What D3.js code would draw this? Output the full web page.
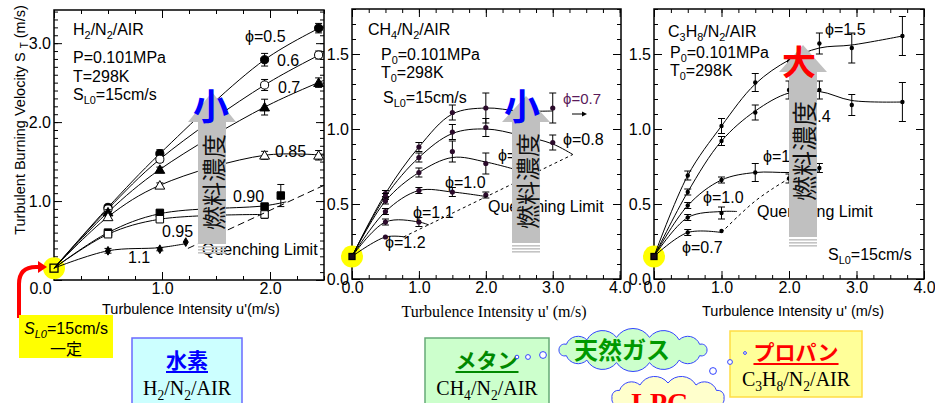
<!DOCTYPE html>
<html>
<head>
<meta charset="utf-8">
<script src="https://cdn.jsdelivr.net/npm/d3@7"></script>
<style>
  body { margin: 0; background: #fff; }
</style>
</head>
<body>
<script>
// ---- data (u' in m/s, S_T in m/s) ----
var sL0 = 0.15;

// H2/N2/AIR panel
var h2Series = [
  { phi: "0.5",  mark: "circle",   open: false, u: [0.5, 0.98, 1.95, 2.45], st: [0.92, 1.6, 2.79, 3.19], err: [0.03, 0.05, 0.08, 0.06],
    fit: [[0, 0.15], [0.5, 0.92], [0.98, 1.6], [1.95, 2.79], [2.5, 3.22]] },
  { phi: "0.6",  mark: "circle",   open: true,  u: [0.5, 0.98, 1.95, 2.45], st: [0.9, 1.53, 2.47, 2.85], err: [0.03, 0.04, 0.07, 0.05],
    fit: [[0, 0.15], [0.5, 0.9], [0.98, 1.53], [1.95, 2.47], [2.5, 2.88]] },
  { phi: "0.7",  mark: "triangle", open: false, u: [0.5, 0.98, 1.95, 2.45], st: [0.86, 1.4, 2.19, 2.5], err: [0.03, 0.03, 0.1, 0.06],
    fit: [[0, 0.15], [0.5, 0.86], [0.98, 1.4], [1.95, 2.19], [2.5, 2.53]] },
  { phi: "0.85", mark: "triangle", open: true,  u: [0.5, 0.98, 1.95, 2.45], st: [0.8, 1.2, 1.58, 1.58], err: [0.03, 0.03, 0.05, 0.06],
    fit: [[0, 0.15], [0.5, 0.8], [0.98, 1.2], [1.95, 1.58], [2.5, 1.58]] },
  { phi: "0.90", mark: "square",   open: false, u: [0.5, 0.98, 1.95, 2.1], st: [0.6, 0.85, 0.93, 1.07], err: [0.02, 0.03, 0.04, 0.14],
    fit: [[0, 0.15], [0.5, 0.6], [0.98, 0.84], [1.95, 0.94], [2.15, 0.99]] },
  { phi: "0.95", mark: "square",   open: true,  u: [0.5, 0.98, 1.95], st: [0.58, 0.77, 0.83], err: [0.02, 0.03, 0.05],
    fit: [[0, 0.15], [0.5, 0.58], [0.98, 0.77], [1.95, 0.83]] },
  { phi: "1.1",  mark: "diamond",  open: false, u: [0.5, 0.98, 1.22], st: [0.37, 0.39, 0.48], err: [0.03, 0.02, 0],
    fit: [[0, 0.15], [0.5, 0.37], [0.98, 0.41], [1.22, 0.46]] }
];
var h2Quench = [[1.24, 0.40], [2.5, 1.2]];

// CH4/N2/AIR panel
var ch4Series = [
  { phi: "0.7", u: [0.5, 1.0, 1.5, 2.0, 3.0], st: [0.57, 0.88, 1.11, 1.14, 1.14], err: [0.02, 0.03, 0.05, 0.1, 0.1],
    fit: [[0, 0.15], [0.5, 0.57], [1.0, 0.88], [1.5, 1.1], [2.0, 1.14], [2.5, 1.12], [3.0, 1.12]] },
  { phi: "0.8", u: [0.5, 1.0, 1.5, 2.0, 3.0], st: [0.55, 0.81, 0.98, 1.01, 0.91], err: [0.02, 0.03, 0.05, 0.06, 0.05],
    fit: [[0, 0.15], [0.5, 0.55], [1.0, 0.81], [1.5, 0.97], [2.0, 1.0], [2.5, 0.96], [3.0, 0.9], [3.3, 0.83]] },
  { phi: "0.9", u: [0.5, 1.0, 1.5, 2.0], st: [0.52, 0.71, 0.85, 0.77], err: [0.02, 0.03, 0.07, 0.07],
    fit: [[0, 0.15], [0.5, 0.52], [1.0, 0.71], [1.5, 0.81], [2.0, 0.78], [2.6, 0.71]] },
  { phi: "1.0", u: [0.5, 1.0, 1.5, 2.0], st: [0.45, 0.59, 0.58, 0.56], err: [0.02, 0.02, 0.03, 0.02],
    fit: [[0, 0.15], [0.5, 0.45], [1.0, 0.59], [1.5, 0.58], [2.0, 0.55]] },
  { phi: "1.1", u: [0.5, 1.0], st: [0.38, 0.38], err: [0.02, 0.03],
    fit: [[0, 0.15], [0.5, 0.38], [1.0, 0.38], [1.15, 0.36]] },
  { phi: "1.2", u: [0.5], st: [0.28], err: [0],
    fit: [[0, 0.15], [0.5, 0.28], [0.8, 0.28]] }
];
var ch4Quench = [[0.77, 0.28], [3.3, 0.83]];

// C3H8/N2/AIR panel
var c3h8Series = [
  { phi: "1.5", u: [0.5, 1.0, 1.5, 2.0, 2.45, 2.93, 3.68], st: [0.69, 1.02, 1.31, 1.45, 1.57, 1.54, 1.62], err: [0.03, 0.05, 0.06, 0.03, 0.07, 0.1, 0.13],
    fit: [[0, 0.15], [0.5, 0.69], [1.0, 1.02], [1.5, 1.3], [2.0, 1.46], [2.45, 1.54], [2.93, 1.56], [3.68, 1.62]] },
  { phi: "1.4", u: [0.5, 1.0, 1.5, 2.0, 2.45, 2.93, 3.68], st: [0.58, 0.92, 1.11, 1.26, 1.26, 1.16, 1.18], err: [0.02, 0.03, 0.05, 0.06, 0.06, 0.07, 0.13],
    fit: [[0, 0.15], [0.5, 0.58], [1.0, 0.92], [1.5, 1.12], [2.0, 1.24], [2.45, 1.25], [2.93, 1.19], [3.68, 1.18]] },
  { phi: "1.2", u: [0.5, 1.0, 1.5, 2.0, 2.45], st: [0.49, 0.66, 0.71, 0.67, 0.74], err: [0.02, 0.02, 0.06, 0.03, 0.03],
    fit: [[0, 0.15], [0.5, 0.49], [1.0, 0.66], [1.5, 0.71], [2.0, 0.71], [2.45, 0.72]] },
  { phi: "1.0", u: [0.5, 1.0], st: [0.41, 0.44], err: [0.02, 0.04],
    fit: [[0, 0.15], [0.5, 0.41], [1.0, 0.45], [1.23, 0.45]] },
  { phi: "0.7", u: [0.5, 1.0], st: [0.31, 0.32], err: [0.02, 0],
    fit: [[0, 0.15], [0.5, 0.31], [1.0, 0.31]] }
];
var c3h8Quench = [[1.0, 0.31], [1.25, 0.42], [1.5, 0.52], [1.75, 0.6], [2.0, 0.67]];

var sans = "'Liberation Sans', Arial, sans-serif";
var serif = "'Liberation Serif', 'Times New Roman', serif";
var cjk = "'Noto Sans CJK JP', sans-serif";

var svg = d3.select("body").append("svg")
  .attr("width", 935)
  .attr("height", 403)
  .style("display", "block");

// scales for the three panels
var xH2 = d3.scaleLinear().domain([0, 2.5]).range([54, 324]);
var yH2 = d3.scaleLinear().domain([0, 3.42]).range([280, 10]);
var xCH4 = d3.scaleLinear().domain([0, 4.02]).range([352, 621]);
var yCH4 = d3.scaleLinear().domain([0, 1.8]).range([279, 9]);
var xC3H8 = d3.scaleLinear().domain([0, 4]).range([654, 924]);
var yC3H8 = d3.scaleLinear().domain([0, 1.8]).range([279, 9]);

function steps(max, step) {
  return d3.range(0, Math.round(max / step) + 1).map(function (i) { return +(i * step).toFixed(2); });
}

// frame with inward ticks on all four sides
function frame(g, x, y, xMaj, xMin, yMaj, yMin, xLab, yLab) {
  var W = x.range(), H = y.range();
  var sides = [
    [d3.axisBottom(x), "translate(0," + H[0] + ")", xMaj, xMin, xLab],
    [d3.axisTop(x), "translate(0," + H[1] + ")", xMaj, xMin, []],
    [d3.axisLeft(y), "translate(" + W[0] + ",0)", yMaj, yMin, yLab],
    [d3.axisRight(y), "translate(" + W[1] + ",0)", yMaj, yMin, []]
  ];
  sides.forEach(function (s) {
    g.append("g").attr("transform", s[1])
      .call(s[0].tickValues(s[3]).tickSize(-4).tickFormat(""));
    g.append("g").attr("transform", s[1])
      .call(s[0].tickValues(s[2]).tickSize(-8).tickFormat(function (d) {
        return s[4].indexOf(d) >= 0 ? d3.format(".1f")(d) : "";
      }));
  });
  g.selectAll(".domain").remove();
  g.selectAll(".tick line").attr("stroke", "#000").attr("stroke-width", 1);
  g.selectAll(".tick text").attr("font-family", sans).attr("font-size", 16).attr("fill", "#000");
  g.append("rect")
    .attr("x", W[0]).attr("y", H[1])
    .attr("width", W[1] - W[0]).attr("height", H[0] - H[1])
    .attr("fill", "none").attr("stroke", "#000").attr("stroke-width", 1.5);
}

// text with subscripts: parts are strings, or [string] for a subscript
function rich(g, x, y, parts, size, family, color) {
  var t = g.append("text").attr("x", x).attr("y", y)
    .attr("font-size", size).attr("font-family", family).attr("fill", color || "#000");
  var down = false;
  parts.forEach(function (p) {
    var sub = Array.isArray(p);
    var s = t.append("tspan").text(sub ? p[0] : p);
    if (sub) {
      s.attr("font-size", size * 0.68);
      if (!down) s.attr("dy", size * 0.25);
      down = true;
    } else if (down) {
      s.attr("dy", -size * 0.25);
      down = false;
    }
  });
  return t;
}

var line = function (x, y) {
  return d3.line()
    .x(function (d) { return x(d[0]); })
    .y(function (d) { return y(d[1]); })
    .curve(d3.curveCatmullRom.alpha(0.5));
};

var symbols = { circle: d3.symbolCircle, triangle: d3.symbolTriangle, square: d3.symbolSquare, diamond: d3.symbolDiamond };
var symSize = { circle: 52, triangle: 42, square: 56, diamond: 22 };

function drawSeries(g, x, y, list, dotColor, dotR) {
  var ln = line(x, y);
  list.forEach(function (s) {
    g.append("path").attr("d", ln(s.fit))
      .attr("fill", "none").attr("stroke", "#000").attr("stroke-width", 1);
  });
  list.forEach(function (s) {
    s.u.forEach(function (u, i) {
      var cx = x(u), cy = y(s.st[i]), e = s.err[i];
      if (e > 0) {
        var y1 = y(s.st[i] - e), y2 = y(s.st[i] + e);
        g.append("line").attr("x1", cx).attr("x2", cx).attr("y1", y1).attr("y2", y2).attr("stroke", "#000");
        [y1, y2].forEach(function (yy) {
          g.append("line").attr("x1", cx - 3.5).attr("x2", cx + 3.5).attr("y1", yy).attr("y2", yy).attr("stroke", "#000");
        });
      }
      if (s.mark) {
        g.append("path")
          .attr("d", d3.symbol().type(symbols[s.mark]).size(symSize[s.mark])())
          .attr("transform", "translate(" + cx + "," + (cy + (s.mark === "triangle" ? 1 : 0)) + ")")
          .attr("fill", s.open ? "#fff" : "#000")
          .attr("stroke", "#000").attr("stroke-width", 1);
      } else {
        g.append("circle").attr("cx", cx).attr("cy", cy).attr("r", dotR).attr("fill", dotColor);
      }
    });
  });
}

function origin(g, x, y, big) {
  g.append("circle").attr("cx", x(0)).attr("cy", y(sL0)).attr("r", 11).attr("fill", "#ffff00");
}
function originMark(g, x, y, big) {
  var s = big ? 8 : 6;
  g.append("rect").attr("x", x(0) - s / 2).attr("y", y(sL0) - s / 2).attr("width", s).attr("height", s)
    .attr("fill", big ? "none" : "#1a0a1a").attr("stroke", "#000").attr("stroke-width", 1.3);
}

var phi = "\u03D5";

// ---------------- panel 1: H2 ----------------
var g1 = svg.append("g");
frame(g1, xH2, yH2, [0, 1, 2], steps(2.5, 0.25), [0, 1, 2, 3], steps(3.4, 0.1), [0, 1, 2], [1, 2, 3]);
g1.selectAll("text").filter(function (d) { return d === 0; }).attr("dx", -14);
origin(g1, xH2, yH2);
drawSeries(g1, xH2, yH2, h2Series);
originMark(g1, xH2, yH2, true);
g1.append("path").attr("d", d3.line().x(function (d) { return xH2(d[0]); }).y(function (d) { return yH2(d[1]); })(h2Quench))
  .attr("fill", "none").attr("stroke", "#000").attr("stroke-dasharray", "7,4");

rich(g1, 73, 35, ["H", ["2"], "/N", ["2"], "/AIR"], 16, sans);
rich(g1, 73, 63, ["P=0.101MPa"], 16, sans);
rich(g1, 73, 82, ["T=298K"], 16, sans);
rich(g1, 73, 100, ["S", ["L0"], "=15cm/s"], 16, sans);
rich(g1, 245, 42, [phi + "=0.5"], 16, sans);
rich(g1, 277, 66, ["0.6"], 16, sans);
rich(g1, 278, 93, ["0.7"], 16, sans);
rich(g1, 275, 157, ["0.85"], 16, sans);
rich(g1, 233, 202, ["0.90"], 16, sans);
rich(g1, 162, 237, ["0.95"], 16, sans);
rich(g1, 128, 263, ["1.1"], 16, sans);
rich(g1, 202, 255, ["Quenching Limit"], 16, sans);

// axis titles of panel 1
var yt = svg.append("text").attr("transform", "translate(25,120) rotate(-90)")
  .attr("text-anchor", "middle").attr("font-family", sans).attr("font-size", 14.5);
yt.append("tspan").text("Turbulent Burning Velocity S ");
yt.append("tspan").text("T").attr("font-size", 10).attr("dy", 3);
yt.append("tspan").text(" (m/s)").attr("dy", -3);
svg.append("text").attr("x", 191).attr("y", 314).attr("text-anchor", "middle")
  .attr("font-family", sans).attr("font-size", 14.5).text("Turbulence Intensity u'(m/s)");

// ---------------- panel 2: CH4 ----------------
var g2 = svg.append("g");
frame(g2, xCH4, yCH4, [0, 1, 2, 3, 4], steps(4, 0.25), [0, 0.5, 1, 1.5], steps(1.8, 0.1), [0, 1, 2, 3, 4], [0, 0.5, 1, 1.5]);
origin(g2, xCH4, yCH4);
drawSeries(g2, xCH4, yCH4, ch4Series, "#2a0a2a", 2.6);
originMark(g2, xCH4, yCH4, false);
g2.append("path").attr("d", d3.line().x(function (d) { return xCH4(d[0]); }).y(function (d) { return yCH4(d[1]); })(ch4Quench))
  .attr("fill", "none").attr("stroke", "#000").attr("stroke-dasharray", "3,3");

rich(g2, 368, 35, ["CH", ["4"], "/N", ["2"], "/AIR"], 16, sans);
rich(g2, 381, 60, ["P", ["0"], "=0.101MPa"], 16, sans);
rich(g2, 381, 78, ["T", ["0"], "=298K"], 16, sans);
rich(g2, 383, 103, ["S", ["L0"], "=15cm/s"], 16, sans);
rich(g2, 563, 104, [phi + "=0.7"], 15, sans, "#5a1a5a");
rich(g2, 563, 145, [phi + "=0.8"], 16, sans);
rich(g2, 498, 161, [phi + "=0.9"], 16, sans);
rich(g2, 445, 188, [phi + "=1.0"], 16, sans);
rich(g2, 413, 218, [phi + "=1.1"], 16, sans);
rich(g2, 385, 248, [phi + "=1.2"], 16, sans);
rich(g2, 488, 212, ["Quenching Limit"], 16, sans);
g2.append("line").attr("x1", 572).attr("x2", 583).attr("y1", 114).attr("y2", 114).attr("stroke", "#000");
g2.append("path").attr("d", "M587,114 L582,111.5 L582,116.5 Z").attr("fill", "#000");
svg.append("text").attr("x", 494).attr("y", 317).attr("text-anchor", "middle")
  .attr("font-family", serif).attr("font-size", 16).text("Turbulence Intensity u' (m/s)");

// ---------------- panel 3: C3H8 ----------------
var g3 = svg.append("g");
frame(g3, xC3H8, yC3H8, [0, 1, 2, 3, 4], steps(4, 0.25), [0, 0.5, 1, 1.5], steps(1.8, 0.1), [0, 1, 2, 3, 4], [0, 0.5, 1, 1.5]);
origin(g3, xC3H8, yC3H8);
drawSeries(g3, xC3H8, yC3H8, c3h8Series, "#000", 2.2);
originMark(g3, xC3H8, yC3H8, false);
g3.append("path").attr("d", line(xC3H8, yC3H8)(c3h8Quench))
  .attr("fill", "none").attr("stroke", "#000").attr("stroke-dasharray", "3,3");

rich(g3, 668, 37, ["C", ["3"], "H", ["8"], "/N", ["2"], "/AIR"], 16, sans);
rich(g3, 670, 58, ["P", ["0"], "=0.101MPa"], 16, sans);
rich(g3, 670, 76, ["T", ["0"], "=298K"], 16, sans);
rich(g3, 828, 260, ["S", ["L0"], "=15cm/s"], 16, sans);
rich(g3, 825, 35, [phi + "=1.5"], 16, sans);
rich(g3, 790, 122, [phi + "=1.4"], 16, sans);
rich(g3, 763, 162, [phi + "=1.2"], 16, sans);
rich(g3, 703, 203, [phi + "=1.0"], 16, sans);
rich(g3, 682, 253, [phi + "=0.7"], 16, sans);
rich(g3, 757, 217, ["Quenching Limit"], 16, sans);
svg.append("text").attr("x", 793).attr("y", 316).attr("text-anchor", "middle")
  .attr("font-family", sans).attr("font-size", 14.5).text("Turbulence Intensity u' (m/s)");

// ---------------- grey "fuel concentration" arrows ----------------
function bigArrow(cx, tipY, baseY, bottomY, textY, fs) {
  var g = svg.append("g");
  g.append("path")
    .attr("d", "M" + cx + "," + tipY + " L" + (cx + 24) + "," + baseY + " L" + (cx + 14) + "," + baseY +
      " L" + (cx + 14) + "," + bottomY + " L" + (cx - 14) + "," + bottomY + " L" + (cx - 14) + "," + baseY +
      " L" + (cx - 24) + "," + baseY + " Z")
    .attr("fill", "#c0c0c0");
  [2, 5, 8].forEach(function (o) {
    g.append("rect").attr("x", cx - 14).attr("y", bottomY + o).attr("width", 28).attr("height", 1.6).attr("fill", "#c4c4c4");
  });
  g.append("text").attr("transform", "translate(" + cx + "," + textY + ") rotate(-90)")
    .attr("text-anchor", "middle").attr("dominant-baseline", "central")
    .attr("font-family", cjk).attr("font-size", fs).attr("fill", "#111").text("燃料濃度");
}
bigArrow(212, 92, 122, 244, 182, 24);
bigArrow(526, 96, 122, 243, 181, 24);
bigArrow(803, 45, 72, 237, 151, 25);

function bigChar(x, y, ch, color, fs) {
  svg.append("text").attr("x", x).attr("y", y).attr("text-anchor", "middle").attr("dominant-baseline", "central")
    .attr("font-family", cjk).attr("font-weight", "bold").attr("font-size", fs).attr("fill", color).text(ch);
}
bigChar(211, 104, "小", "#0000ff", 36);
bigChar(522, 104, "小", "#0000ff", 36);
bigChar(799, 60, "大", "#ff0000", 34);

// ---------------- bottom annotations ----------------
// red arrow from the yellow note to the origin point
svg.append("path").attr("d", "M19,318 L19,284 Q19,267 36,267 L40,267")
  .attr("fill", "none").attr("stroke", "#ff0000").attr("stroke-width", 4);
svg.append("path").attr("d", "M47,267 L38,261 L38,273 Z").attr("fill", "#ff0000");

svg.append("rect").attr("x", 19).attr("y", 315).attr("width", 94).attr("height", 43).attr("fill", "#ffff00");
var note = svg.append("text").attr("x", 66).attr("y", 334).attr("text-anchor", "middle")
  .attr("font-family", sans).attr("font-size", 16);
note.append("tspan").text("S").attr("font-style", "italic");
note.append("tspan").text("L0").attr("font-style", "italic").attr("font-size", 11).attr("dy", 4);
note.append("tspan").text("=15cm/s").attr("dy", -4);
svg.append("text").attr("x", 66).attr("y", 355).attr("text-anchor", "middle")
  .attr("font-family", cjk).attr("font-size", 16).text("一定");

function labelBox(x, y, w, h, fill, stroke, title, titleColor, titleY, formula, formulaY) {
  svg.append("rect").attr("x", x).attr("y", y).attr("width", w).attr("height", h)
    .attr("fill", fill).attr("stroke", stroke).attr("stroke-width", 1.5);
  var t = svg.append("text").attr("x", x + w / 2).attr("y", titleY).attr("text-anchor", "middle")
    .attr("font-family", cjk).attr("font-weight", "bold").attr("font-size", 21).attr("fill", titleColor).text(title);
  var len = t.node().getComputedTextLength();
  svg.append("line").attr("x1", x + w / 2 - len / 2).attr("x2", x + w / 2 + len / 2)
    .attr("y1", titleY + 4).attr("y2", titleY + 4).attr("stroke", titleColor).attr("stroke-width", 2);
  rich(svg, 0, formulaY, formula, 20, serif).attr("x", x + w / 2).attr("text-anchor", "middle");
}
labelBox(132, 338, 110, 80, "#ccffff", "#6a6aff", "水素", "#0000ff", 368, ["H", ["2"], "/N", ["2"], "/AIR"], 395);
labelBox(425, 338, 124, 80, "#ccffcc", "#66aa77", "メタン", "#008800", 368, ["CH", ["4"], "/N", ["2"], "/AIR"], 395);
labelBox(730, 331, 132, 66, "#ffff99", "#ffdd44", "プロパン", "#ff0000", 360, ["C", ["3"], "H", ["8"], "/N", ["2"], "/AIR"], 386);

// thought clouds
function cloud(cx, cy, rx, ry, n) {
  var pts = d3.range(n).map(function (i) {
    var a = i / n * 2 * Math.PI;
    return [cx + rx * Math.cos(a), cy + ry * Math.sin(a)];
  });
  var d = "M" + pts[0];
  pts.forEach(function (p, i) {
    var q = pts[(i + 1) % n];
    var r = Math.hypot(q[0] - p[0], q[1] - p[1]) * 0.6;
    d += "A" + r + "," + r + " 0 0 1 " + q;
  });
  return d + "Z";
}
svg.append("path").attr("d", cloud(633, 350, 74, 13, 14)).attr("fill", "#ccffcc").attr("stroke", "#3344ff").attr("stroke-width", 1);
svg.append("text").attr("x", 622).attr("y", 348).attr("text-anchor", "middle").attr("dominant-baseline", "central")
  .attr("font-family", cjk).attr("font-weight", "bold").attr("font-size", 24).attr("fill", "#009900").text("天然ガス");
svg.append("path").attr("d", cloud(668, 398, 56, 15, 12)).attr("fill", "#ffffcc").attr("stroke", "#3344ff").attr("stroke-width", 1);
svg.append("text").attr("x", 660).attr("y", 412).attr("text-anchor", "middle")
  .attr("font-family", serif).attr("font-weight", "bold").attr("font-size", 28).attr("fill", "#ff0000").text("LPG");

// little bubbles
[[517, 357, 1.8], [528, 357, 2.4], [543, 355, 3.4], [745, 353, 1.4], [730, 362, 2.4], [713, 371, 3.4]].forEach(function (b) {
  svg.append("circle").attr("cx", b[0]).attr("cy", b[1]).attr("r", b[2])
    .attr("fill", "#fff").attr("stroke", "#3344ff").attr("stroke-width", 1);
});
</script>
</body>
</html>
